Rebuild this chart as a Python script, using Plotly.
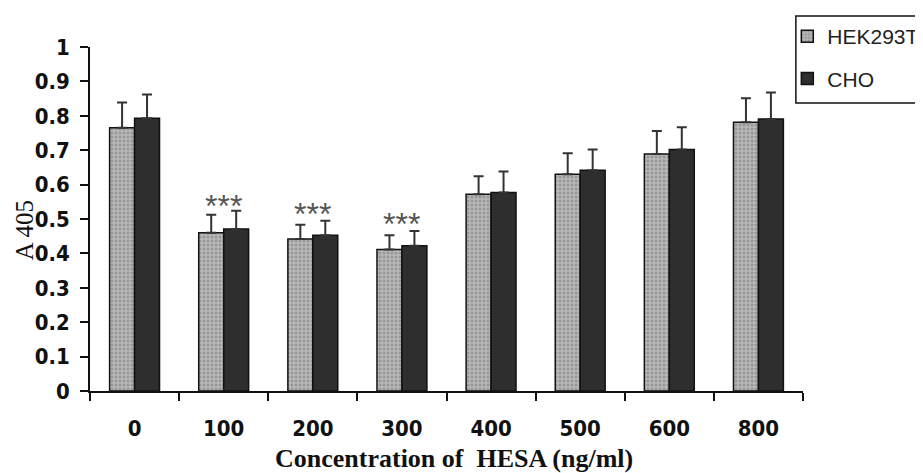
import plotly.graph_objects as go

categories = ["0", "100", "200", "300", "400", "500", "600", "800"]
hek_values = [0.765, 0.46, 0.442, 0.411, 0.572, 0.630, 0.689, 0.781]
hek_errors = [0.074, 0.052, 0.041, 0.042, 0.052, 0.061, 0.067, 0.070]
cho_values = [0.793, 0.471, 0.453, 0.422, 0.577, 0.642, 0.702, 0.791]
cho_errors = [0.069, 0.053, 0.042, 0.043, 0.061, 0.060, 0.065, 0.077]
star_categories = ["100", "200", "300"]
star_y = [0.545, 0.52, 0.49]
star_text = ["***", "***", "***"]

tick_font = dict(family="DejaVu Sans Condensed, DejaVu Sans, sans-serif", size=22,
                 color="#111", weight="bold")

fig = go.Figure()
fig.add_trace(go.Bar(
    name="HEK293T", x=categories, y=hek_values, legendgroup="a",
    marker=dict(color="#a0a0a0", line=dict(color="#111", width=1.5),
                pattern=dict(shape=".", size=4, solidity=0.45,
                             fgcolor="#767676", bgcolor="#b8b8b8")),
    error_y=dict(type="data", array=hek_errors, arrayminus=[0]*len(hek_errors),
                 symmetric=False, color="#333", thickness=2, width=5),
))
fig.add_trace(go.Bar(
    name="CHO", x=categories, y=cho_values, legendgroup="b",
    marker=dict(color="#2e2e2e", line=dict(color="#111", width=1.5)),
    error_y=dict(type="data", array=cho_errors, arrayminus=[0]*len(cho_errors),
                 symmetric=False, color="#333", thickness=2, width=5),
))

for c, yv, t in zip(star_categories, star_y, star_text):
    fig.add_annotation(x=categories.index(c), y=yv, text=t, showarrow=False,
                       xref="x", yref="y",
                       font=dict(family="Liberation Sans, sans-serif", size=32, color="#555"),
                       yanchor="middle", yshift=-2)

fig.add_annotation(text="Concentration of  HESA (ng/ml)", xref="paper", yref="paper",
                   x=0.511, y=0, yshift=-67, showarrow=False, yanchor="middle",
                   font=dict(family="Liberation Serif, serif", size=26, color="#111", weight="bold"))
fig.add_annotation(text="A 405", xref="paper", yref="paper", textangle=-90,
                   x=0, xshift=-66, y=0.467, showarrow=False, xanchor="center",
                   font=dict(family="Liberation Serif, serif", size=25, color="#111"))

# legend frame
fig.add_shape(type="rect", xref="paper", yref="paper", x0=0.990, x1=1.25,
              y0=0.837, y1=1.090, line=dict(color="#111", width=1.5), fillcolor="white",
              layer="below")

fig.update_layout(
    width=915, height=465,
    margin=dict(l=82, r=120, t=39, b=82, autoexpand=False),
    plot_bgcolor="rgba(0,0,0,0)", paper_bgcolor="white",
    barmode="group", bargap=0.44, bargroupgap=0,
    legend=dict(x=0.978, y=1.090, xanchor="left", yanchor="top",
                borderwidth=0, tracegroupgap=12,
                font=dict(family="Liberation Sans, sans-serif", size=21, color="#222"),
                bgcolor="rgba(0,0,0,0)"),
    xaxis=dict(type="category", range=[-0.5, len(categories) - 0.5],
               showline=True, linecolor="#111", linewidth=1.5, ticks="outside",
               tickson="boundaries", ticklen=8, tickwidth=1.5, tickcolor="#111",
               tickfont=tick_font, ticklabelstandoff=17, showgrid=False),
    yaxis=dict(range=[0, 1], dtick=0.1, showline=True, linecolor="#111", linewidth=1.5,
               ticks="outside", ticklen=8, tickwidth=1.5, tickcolor="#111",
               tickfont=tick_font, ticklabelstandoff=6, showgrid=False, zeroline=False),
)

fig.write_html("out.html")
